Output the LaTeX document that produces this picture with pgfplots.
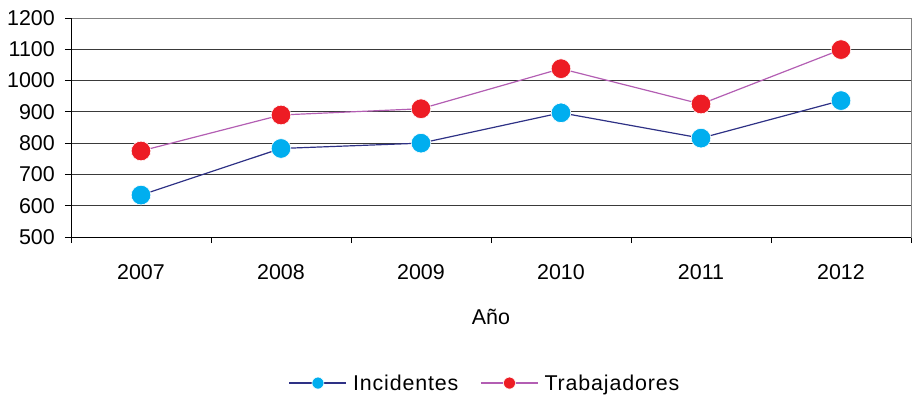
\documentclass[border=0pt]{standalone}
\usepackage{pgfplots}
\pgfplotsset{compat=1.18}
\usepackage{fontspec}
\setmainfont{Liberation Sans}
\newfontfamily\legfont[LetterSpace=4]{Liberation Sans}
\definecolor{incline}{HTML}{2E3185}
\definecolor{incmark}{HTML}{00AEEF}
\definecolor{trabline}{HTML}{B35EB3}
\definecolor{trabmark}{HTML}{ED1C24}
\definecolor{gridc}{HTML}{3A3A3A}
\begin{document}
\begin{tikzpicture}
\begin{axis}[
  scale only axis,
  width=840bp, height=219bp,
  xmin=-0.5, xmax=5.5,
  ymin=500, ymax=1200,
  ytick={500,600,...,1200},
  xtick={0,1,2,3,4,5},
  xticklabels={2007,2008,2009,2010,2011,2012},
  minor xtick={-0.5,0.5,1.5,2.5,3.5,4.5,5.5},
  major x tick style={draw=none},
  tick align=outside,
  xtick pos=bottom, ytick pos=left,
  major tick length=6bp, minor tick length=6bp,
  tick style={black, line width=0.8pt},
  ymajorgrids,
  grid style={gridc, line width=1pt},
  axis line style={gray, line width=1pt},
  /pgf/number format/assume math mode=true,
  /pgf/number format/1000 sep={},
  ticklabel style={font=\fontsize{21.5}{24}\selectfont},
  xticklabel style={anchor=center, inner sep=0pt, yshift=-29bp},
  yticklabel style={anchor=east, inner sep=0pt, xshift=-10bp},
  xlabel={Año},
  xlabel style={font=\fontsize{21.5}{24}\selectfont, at={(axis description cs:0.5,0)}, anchor=base, yshift=-87bp},
  legend columns=2,
  legend style={draw=none, fill=none, at={(axis description cs:0.493,-0.667)}, anchor=center,
    font=\legfont\fontsize{21.5}{24}\selectfont,
    /tikz/every odd column/.append style={column sep=4bp},
    /tikz/every even column/.append style={column sep=20bp}},
  legend cell align=left,
  legend image code/.code={
    \draw[#1, mark repeat=2, mark phase=2, mark size=6bp] plot coordinates {(0bp,0bp) (28.5bp,0bp) (57bp,0bp)};
  },
  clip=false,
]
\addplot[incline, line width=1.2pt, mark=*, mark size=9.8bp, mark options={fill=incmark, draw=white, line width=0.6pt}]
  coordinates {(0,634) (1,783) (2,800) (3,897) (4,816) (5,936)};
\addlegendentry{Incidentes}
\addplot[trabline, line width=1.2pt, mark=*, mark size=9.8bp, mark options={fill=trabmark, draw=white, line width=0.6pt}]
  coordinates {(0,775) (1,890) (2,910) (3,1038) (4,925) (5,1099)};
\addlegendentry{Trabajadores}
\draw[black, line width=1pt] (rel axis cs:0,1) -- (rel axis cs:0,0) -- (rel axis cs:1,0);
\end{axis}
\pgfresetboundingbox
\path (-71bp,-159bp) rectangle (845bp,237bp);
\end{tikzpicture}
\end{document}
